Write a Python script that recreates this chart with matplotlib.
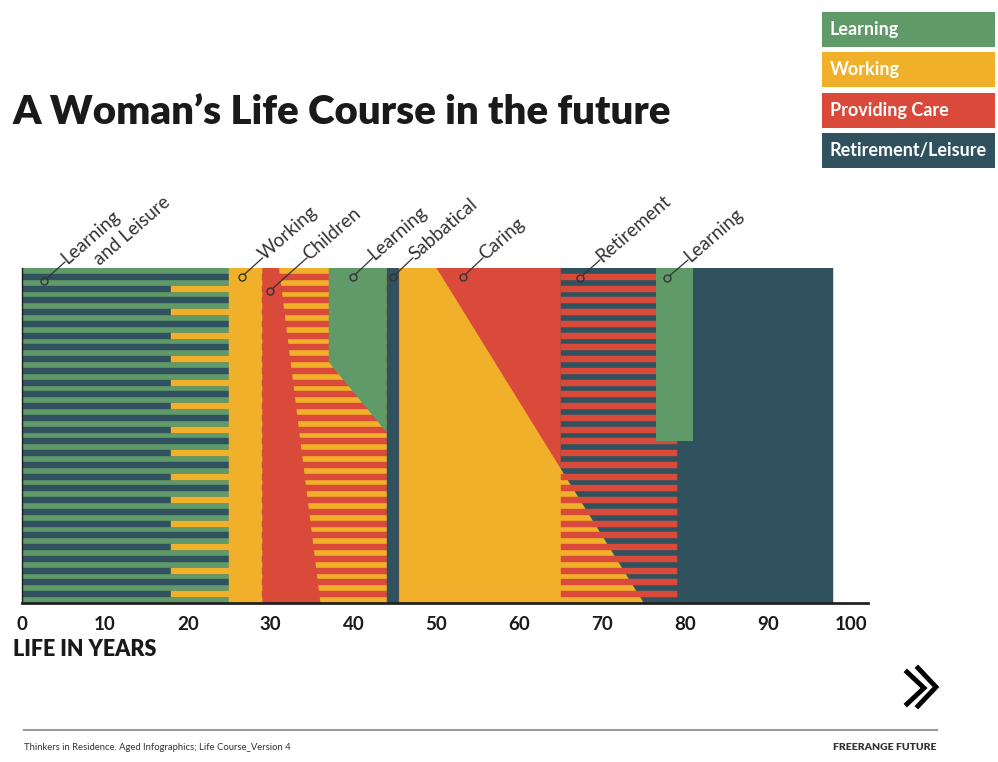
import numpy as np
import matplotlib.pyplot as plt

plt.rcParams['font.family'] = ['Lato', 'DejaVu Sans']

GREEN = '#619a69'
YELLOW = '#f1b02a'
RED = '#d94a3a'
DARK = '#30525f'
INK = '#1a1a1a'

# rows of the striped "fabric", top to bottom
n_rows = 57
rows = np.arange(n_rows)
even_rows = rows[rows % 2 == 0]
odd_rows = rows[rows % 2 == 1]
stub_rows = rows[rows % 4 == 3]

# phase boundaries in years of life
leisure_end = 25
stub_start = 18
working_end = 29
care_end = 44
sabbatical_end = 45.5
caring_start = 50
caring_end = 65
retire_stripe_end = 79
life_end = 97.8

# shaped blocks: (ages, rows)
children_x = [29, 31, 36, 29]
children_y = [0, 0, 57, 57]
learning2_x = [37, 44, 44, 37]
learning2_y = [0, 0, 28, 16]
working2_x = [45.5, 50, 75, 45.5]
working2_y = [0, 0, 57, 57]
learning3_x = [76.5, 81, 81, 76.5]
learning3_y = [0, 0, 29.5, 29.5]

# labels: text, age, row, leader offset in pixels
notes = [
    ('Learning', 2.65, 2.2, 21, 19),
    ('Working', 26.5, 1.5, 21, 19),
    ('Children', 29.9, 3.9, 37, 33),
    ('Learning', 39.9, 1.5, 20, 19),
    ('Sabbatical', 44.75, 1.5, 20, 19),
    ('Caring', 53.2, 1.5, 20, 19),
    ('Retirement', 67.3, 1.7, 20, 18),
    ('Learning', 77.8, 1.7, 21, 18),
]

legend_labels = ['Learning', 'Working', 'Providing Care', 'Retirement/Leisure']
legend_colors = [GREEN, YELLOW, RED, DARK]

fig = plt.figure(figsize=(9.98, 7.62), dpi=100)
W, H = 998, 762

ax = fig.add_axes([22 / W, (H - 603) / H, 846 / W, 335 / H])
ax.set_xlim(0, 102.05)
ax.set_ylim(n_rows, 0)


def band(r, start, end, color):
    ax.barh(r, end - start, left=start, height=1, align='edge',
            color=color, edgecolor=color, linewidth=0.3)


# learning and leisure stripes
band(even_rows, 0, leisure_end, GREEN)
band(odd_rows, 0, leisure_end, DARK)
band(stub_rows, stub_start, leisure_end, YELLOW)

# working
band(rows, leisure_end, working_end, YELLOW)

# children / learning
band(rows, working_end, care_end, YELLOW)
band(odd_rows, working_end, care_end, RED)
ax.fill(children_x, children_y, color=RED, lw=0)
ax.fill(learning2_x, learning2_y, color=GREEN, lw=0)

# sabbatical
band(rows, care_end, sabbatical_end, DARK)

# working / caring / retirement
band(rows, sabbatical_end, caring_end, RED)
band(rows, caring_end, life_end, DARK)
ax.fill(working2_x, working2_y, color=YELLOW, lw=0)
band(odd_rows, caring_end, retire_stripe_end, RED)
ax.fill(learning3_x, learning3_y, color=GREEN, lw=0)

for s in ['top', 'right']:
    ax.spines[s].set_visible(False)
ax.spines['left'].set_color(INK)
ax.spines['left'].set_linewidth(1)
ax.spines['bottom'].set_color('#222222')
ax.spines['bottom'].set_linewidth(2)
ax.set_yticks([])
ax.set_xticks(range(0, 101, 10))
ax.tick_params(axis='x', length=0, pad=9, labelsize=13.5, labelcolor=INK)
for t in ax.get_xticklabels():
    t.set_fontweight('bold')

# leader labels
for text, age, row, dx, dy in notes:
    ax.plot(age, row, 'o', mfc='none', mec='#333333', ms=5, mew=1, clip_on=False, zorder=5)
    ax.annotate('', xy=(age, row), xytext=(dx, dy), textcoords='offset pixels',
                arrowprops=dict(arrowstyle='-', color='#333333', lw=0.9,
                                shrinkA=0, shrinkB=2.5), annotation_clip=False)
    ax.annotate(text, xy=(age, row), xytext=(dx + 2, dy - 3), textcoords='offset pixels',
                rotation=41, rotation_mode='anchor', ha='left', va='baseline',
                fontsize=13.5, color='#333333', annotation_clip=False)
ax.annotate('and Leisure', xy=(notes[0][1], notes[0][2]), xytext=(56, 15),
            textcoords='offset pixels', rotation=41, rotation_mode='anchor',
            ha='left', va='baseline', fontsize=13.5, color='#333333',
            annotation_clip=False)

# overlay in pixel units for page furniture
ov = fig.add_axes([0, 0, 1, 1], zorder=-1)
ov.set_xlim(0, W)
ov.set_ylim(H, 0)
ov.axis('off')

ov.text(13, 113, 'A Woman\u2019s Life Course in the future', fontsize=29,
        fontweight='heavy', color=INK, va='center', ha='left')
ov.text(13, 649, 'LIFE IN YEARS', fontsize=15.5, fontweight='heavy', color=INK,
        va='center', ha='left')

box_tops = [12, 52, 93, 133]
for lab, col, top in zip(legend_labels, legend_colors, box_tops):
    ov.add_patch(plt.Rectangle((822, top), 173, 35, color=col, lw=0))
    ov.text(830, top + 17.5, lab, color='white', fontsize=13, fontweight='bold',
            va='center', ha='left')

# chevron mark
ov.plot([907, 924, 907], [672, 688, 704], color='black', lw=3.5, solid_joinstyle='miter')
ov.plot([918, 936, 918], [668, 687, 706], color='black', lw=3.5, solid_joinstyle='miter')

# footer
ov.plot([24, 937], [730, 730], color='#9a9a9a', lw=1.5)
ov.text(24, 747, 'Thinkers in Residence. Aged Infographics; Life Course_Version 4',
        fontsize=6.8, color='#333333', va='center', ha='left')
ov.text(937, 747, 'FREERANGE FUTURE', fontsize=7.5, fontweight='heavy', color='#333333',
        va='center', ha='right')

fig.savefig('out.png', dpi=100)
